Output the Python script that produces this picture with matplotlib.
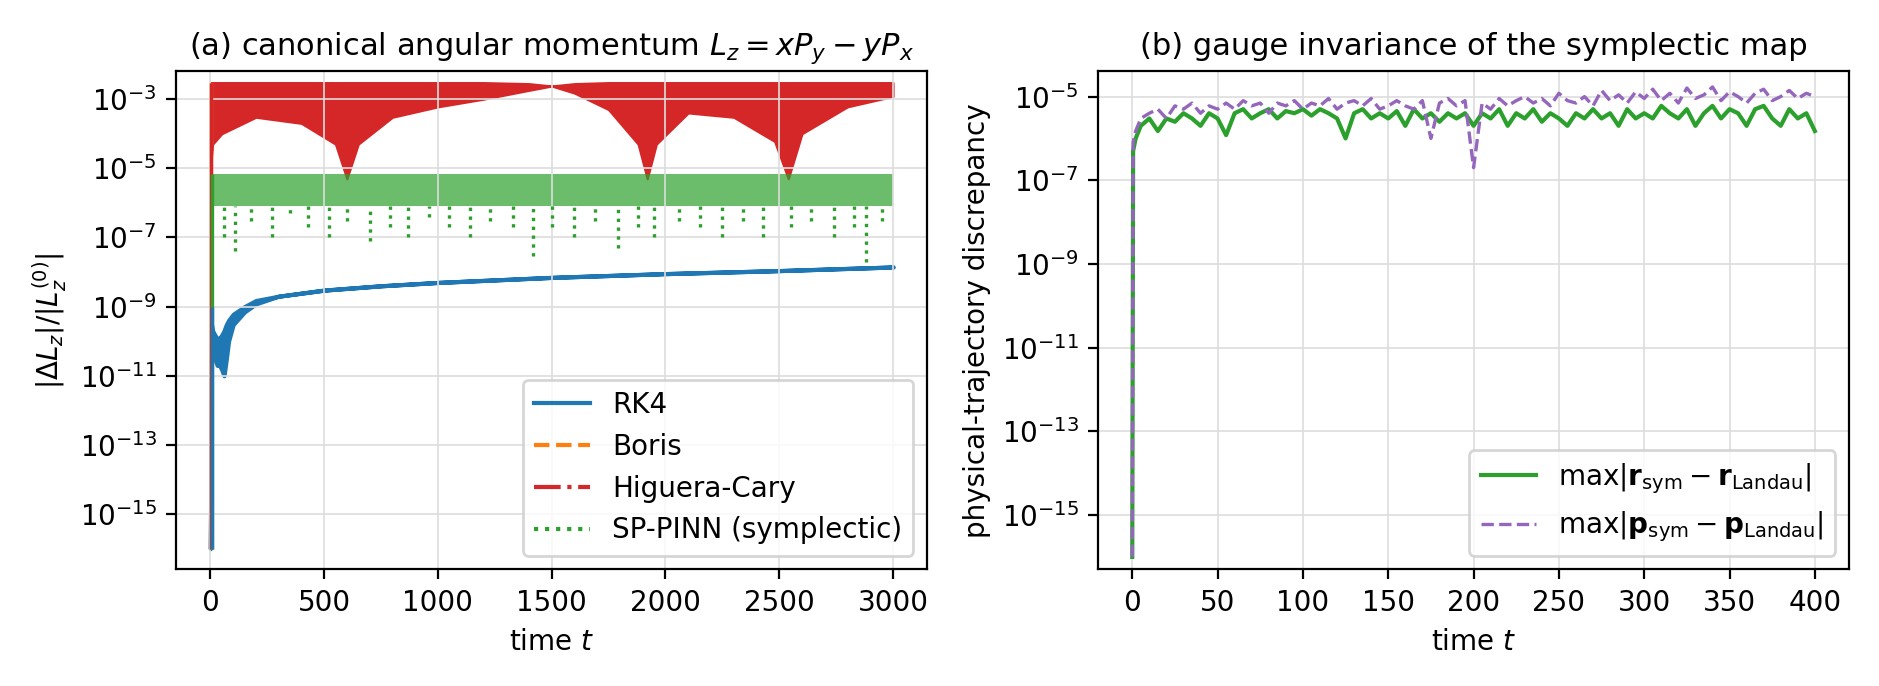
import numpy as np
import matplotlib.pyplot as plt
from matplotlib.lines import Line2D

# ---- panel (a): envelopes ----
rk4_t = [0, 5, 10, 20, 30, 40, 50, 60, 70, 80, 100, 150, 200, 300, 500, 750, 1000, 1500, 2000, 2500, 3000]
rk4_hi = [1e-16, 3e-10, 2e-10, 1.5e-10, 1.2e-10, 1.2e-10, 1.5e-10, 2e-10, 3e-10, 4e-10, 6e-10, 1e-9, 1.5e-9, 2e-9, 3e-9, 4e-9, 5e-9, 7e-9, 9e-9, 1.1e-8, 1.4e-8]
rk4_lo = [1e-16, 1e-10, 5e-11, 3e-11, 2e-11, 2e-11, 1.5e-11, 1e-11, 3e-11, 1e-10, 3e-10, 7e-10, 1.2e-9, 2e-9, 3e-9, 4e-9, 5e-9, 7e-9, 9e-9, 1.1e-8, 1.4e-8]

hc_t = [0, 10, 50, 200, 400, 550, 600, 650, 800, 1000, 1200, 1400, 1500, 1600, 1750, 1880, 1920, 1960, 2100, 2300, 2480, 2540, 2600, 2800, 3000]
hc_hi = [3e-3, 3e-3, 3e-3, 3e-3, 3e-3, 3e-3, 3e-3, 3e-3, 3e-3, 3e-3, 3e-3, 2.8e-3, 2.4e-3, 2.8e-3, 3e-3, 3e-3, 3e-3, 3e-3, 3e-3, 3e-3, 3e-3, 3e-3, 3e-3, 3e-3, 3e-3]
hc_lo = [1e-5, 5e-5, 1e-4, 3e-4, 2e-4, 5e-5, 5e-6, 5e-5, 3e-4, 6e-4, 1e-3, 1.8e-3, 2.4e-3, 1.5e-3, 5e-4, 5e-5, 5e-6, 5e-5, 4e-4, 3e-4, 6e-5, 5e-6, 1e-4, 6e-4, 1.2e-3]

sp_t = [5, 3000]
sp_hi = [7e-6, 7e-6]
sp_lo = [8e-7, 8e-7]
sp_spike_t = [60, 110, 180, 270, 350, 430, 520, 600, 700, 790, 870, 960, 1050, 1140, 1230, 1330, 1420, 1500, 1600, 1690, 1790, 1880, 1950, 2060, 2150, 2250, 2340, 2430, 2550, 2640, 2740, 2830, 2880, 2950]
sp_spike_v = [1e-7, 4e-8, 3e-7, 1e-7, 5e-7, 2e-7, 1e-7, 3e-7, 8e-8, 2e-7, 1e-7, 4e-7, 2e-7, 1e-7, 3e-7, 2e-7, 3e-8, 2e-7, 1e-7, 3e-7, 5e-8, 2e-7, 1e-7, 3e-7, 2e-7, 1e-7, 3e-7, 1e-7, 2e-7, 3e-7, 1e-7, 2e-7, 2e-8, 3e-7]

# ---- panel (b): sampled every 5 time units ----
b_t = [0, 0.5, 2] + list(range(5, 401, 5))
b_r = [1e-16, 5e-7, 1e-6,
       2e-6, 3e-6, 1.5e-6, 3e-6, 2.5e-6, 4e-6, 3e-6, 2e-6, 4e-6, 3e-6,
       1.2e-6, 4e-6, 5e-6, 3e-6, 4e-6, 5e-6, 3e-6, 4.5e-6, 4e-6, 5e-6,
       3.5e-6, 5e-6, 4e-6, 3e-6, 1e-6, 4e-6, 5e-6, 3e-6, 4e-6, 3e-6,
       4.5e-6, 2e-6, 5e-6, 3e-6, 4e-6, 2.5e-6, 4e-6, 3e-6, 4e-6, 2e-6,
       4e-6, 3e-6, 5e-6, 2e-6, 4e-6, 3e-6, 5e-6, 2.5e-6, 4e-6, 3e-6,
       2e-6, 4e-6, 3e-6, 5e-6, 3e-6, 4e-6, 2e-6, 5e-6, 3e-6, 4e-6,
       3e-6, 6e-6, 4e-6, 3e-6, 5e-6, 2e-6, 4e-6, 6e-6, 3e-6, 5e-6,
       4e-6, 2e-6, 5e-6, 6e-6, 3e-6, 2e-6, 5e-6, 3e-6, 4e-6, 1.5e-6]
b_p = [1e-16, 8e-7, 1.5e-6,
       3e-6, 4e-6, 5e-6, 3e-6, 6e-6, 5e-6, 7e-6, 4e-6, 6e-6, 5e-6,
       7e-6, 5e-6, 8e-6, 6e-6, 7e-6, 4e-6, 7e-6, 6e-6, 8e-6, 5e-6,
       7e-6, 6e-6, 9e-6, 5e-6, 7e-6, 8e-6, 6e-6, 9e-6, 5e-6, 6e-6,
       8e-6, 6e-6, 5e-6, 8e-6, 1e-6, 7e-6, 9e-6, 6e-6, 8e-6, 2e-7,
       7e-6, 5e-6, 9e-6, 6e-6, 8e-6, 1e-5, 7e-6, 9e-6, 6e-6, 1.2e-5,
       8e-6, 7e-6, 1e-5, 6e-6, 1.4e-5, 8e-6, 1.1e-5, 7e-6, 1.3e-5, 9e-6,
       1.5e-5, 8e-6, 1.2e-5, 7e-6, 1.6e-5, 9e-6, 1.1e-5, 1.7e-5, 8e-6, 1.3e-5,
       1e-5, 7e-6, 1.2e-5, 1.5e-5, 8e-6, 1e-5, 1.4e-5, 9e-6, 1.2e-5, 1e-5]

BLUE, ORANGE, RED, GREEN, PURPLE = "#1f77b4", "#ff7f0e", "#d62728", "#2ca02c", "#9467bd"
FS = 10

fig, (ax1, ax2) = plt.subplots(1, 2, figsize=(9.395, 3.43), dpi=200)

ax1.fill_between(hc_t, hc_lo, hc_hi, color=RED, lw=0.8, edgecolor=RED)
ax1.fill_between(sp_t, sp_lo, sp_hi, color=GREEN, alpha=0.7, lw=0)
ax1.vlines(sp_spike_t, sp_spike_v, sp_lo[0], color=GREEN, lw=1.2, linestyles=":")
ax1.fill_between(rk4_t, rk4_lo, rk4_hi, color=BLUE, lw=1.5, edgecolor=BLUE)
ax1.vlines([2, 4, 6, 8], 1e-16, [3e-3, 3e-3, 7e-6, 1e-9], colors=[ORANGE, RED, GREEN, BLUE], lw=1.2)

handles = [Line2D([], [], color=BLUE, lw=1.5),
           Line2D([], [], color=ORANGE, lw=1.5, ls="--"),
           Line2D([], [], color=RED, lw=1.5, ls="-."),
           Line2D([], [], color=GREEN, lw=1.5, ls=":")]
ax1.legend(handles, ["RK4", "Boris", "Higuera-Cary", "SP-PINN (symplectic)"], loc="lower right", fontsize=FS)
ax1.set_yscale("log")
ax1.set_ylim(10**-16.6, 10**-2.2)
ax1.set_xlim(-150, 3150)
ax1.set_yticks([10.0**k for k in range(-15, -2, 2)])
ax1.minorticks_off()
ax1.grid(True, color="#dddddd", lw=0.6)
ax1.set_xlabel("time $t$", fontsize=FS)
ax1.set_ylabel(r"$|\Delta L_z|/|L_z^{(0)}|$", fontsize=FS)
ax1.set_title(r"(a) canonical angular momentum $L_z = xP_y - yP_x$", fontsize=11)

ax2.plot(b_t, b_r, color=GREEN, lw=1.5, label=r"$\max|\mathbf{r}_{\rm sym} - \mathbf{r}_{\rm Landau}|$")
ax2.plot(b_t, b_p, color=PURPLE, lw=1.2, ls="--", label=r"$\max|\mathbf{p}_{\rm sym} - \mathbf{p}_{\rm Landau}|$")
ax2.set_yscale("log")
ax2.set_ylim(10**-16.3, 10**-4.4)
ax2.set_xlim(-20, 420)
ax2.set_yticks([10.0**k for k in range(-15, -4, 2)])
ax2.minorticks_off()
ax2.grid(True, color="#dddddd", lw=0.6)
ax2.legend(loc="lower right", fontsize=FS)
ax2.set_xlabel("time $t$", fontsize=FS)
ax2.set_ylabel("physical-trajectory discrepancy", fontsize=FS)
ax2.set_title("(b) gauge invariance of the symplectic map", fontsize=11)

for ax in (ax1, ax2):
    ax.tick_params(labelsize=FS)

plt.tight_layout()
plt.savefig("out.png")
